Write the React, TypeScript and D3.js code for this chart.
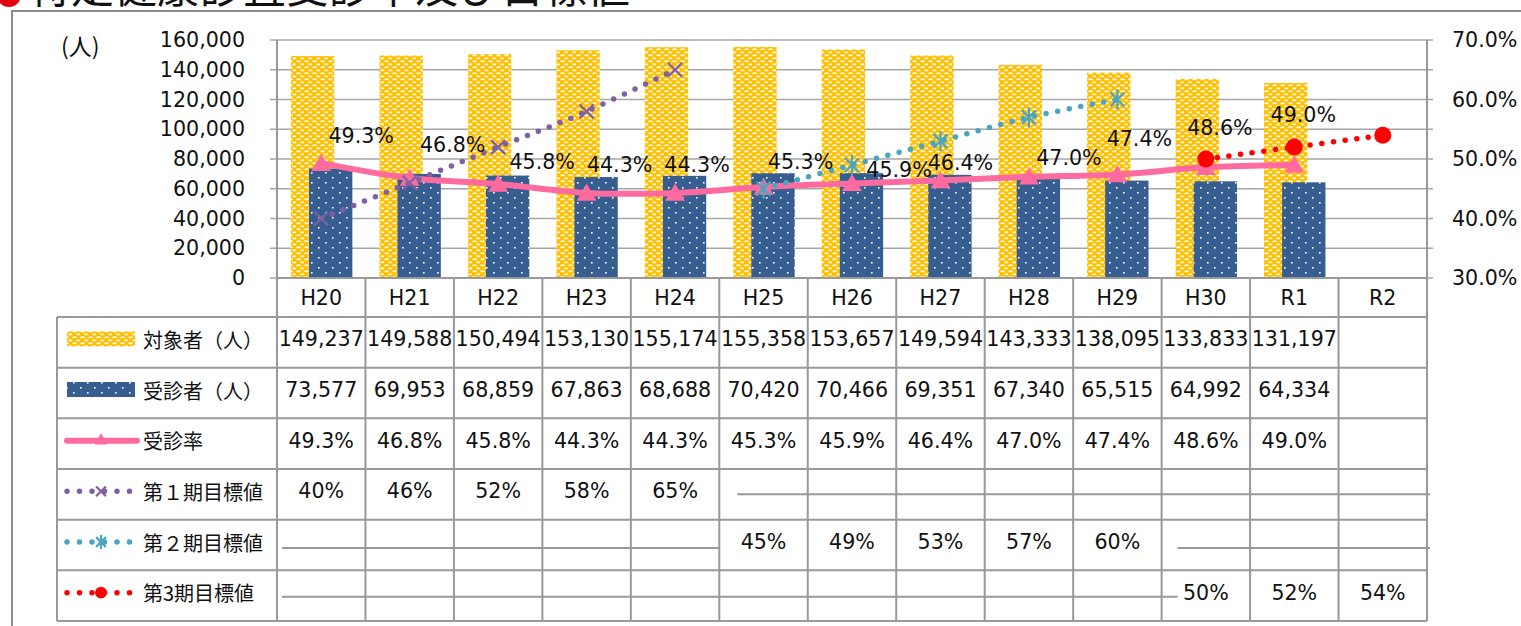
import React from "react";
import * as d3 from "d3";

// fiscal years along the bottom
const categories = ["H20", "H21", "H22", "H23", "H24", "H25", "H26", "H27", "H28", "H29", "H30", "R1", "R2"];

// people covered / people examined
const targets = [149237, 149588, 150494, 153130, 155174, 155358, 153657, 149594, 143333, 138095, 133833, 131197, null];
const examinees = [73577, 69953, 68859, 67863, 68688, 70420, 70466, 69351, 67340, 65515, 64992, 64334, null];

// exam rate (%) and the three target periods (%)
const rate = [49.3, 46.8, 45.8, 44.3, 44.3, 45.3, 45.9, 46.4, 47.0, 47.4, 48.6, 49.0, null];
const goal1 = [40, 46, 52, 58, 65, null, null, null, null, null, null, null, null];
const goal2 = [null, null, null, null, null, 45, 49, 53, 57, 60, null, null, null];
const goal3 = [null, null, null, null, null, null, null, null, null, null, 50, 52, 54];

const leftTicks = [0, 20000, 40000, 60000, 80000, 100000, 120000, 140000, 160000];
const rightTicks = [30, 40, 50, 60, 70];

const rowLabels = ["対象者（人）", "受診者（人）", "受診率", "第１期目標値", "第２期目標値", "第3期目標値"];

// the rate labels were dragged around by hand in the original, so nudge each one
const rateLabelNudge = [
  [40, -27], [43, -33], [44, -22], [33, -28], [22, -28], [37, -25],
  [47, -13], [20, -17], [40, -19], [22, -35], [14, -39], [9, -50],
];

const NUM_FONT = "'DejaVu Sans', Verdana, sans-serif";
const JP_FONT = "'Noto Sans CJK JP', 'Noto Sans', sans-serif";
const GRID = "#a6a6a6";
const TABLE = "#999999";
const PINK = "#ff6b9e";
const PURPLE = "#7f60a2";
const TEAL = "#4ba5c0";
const RED = "#ff0000";
const FS = 20.6;

const fmt = d3.format(",");

export default function App() {
  const width = 1521;
  const height = 626;
  const plotTop = 40;
  const plotBottom = 278;
  const plotLeft = 277;
  const plotRight = 1427;
  const tableLeft = 57;
  const headerBottom = 317;
  const tableBottom = 621;
  const rowH = (tableBottom - headerBottom) / rowLabels.length;

  const x = d3.scaleBand().domain(categories).range([plotLeft, plotRight]);
  const bw = x.bandwidth();
  const cx = (c: string) => (x(c) as number) + bw / 2;
  const yL = d3.scaleLinear().domain([0, 160000]).range([plotBottom, plotTop]);
  const yR = d3.scaleLinear().domain([30, 70]).range([plotBottom, plotTop]);

  const barW = bw * 0.49;
  const rowMid = (i: number) => headerBottom + rowH * (i + 0.5) - 3;

  const lineGen = d3
    .line<[string, number | null]>()
    .defined((d) => d[1] != null)
    .x((d) => cx(d[0]))
    .y((d) => yR(d[1] as number))
    .curve(d3.curveCardinal.tension(0));

  const pairs = (vals: (number | null)[]) => categories.map((c, i) => [c, vals[i]] as [string, number | null]);
  const triangle = d3.symbol(d3.symbolTriangle, 170)() as string;

  const xMark = (px: number, py: number, color: string, key: string, s = 1) => (
    <g key={key} stroke={color} strokeWidth={2.2}>
      <line x1={px - 7 * s} y1={py - 7 * s} x2={px + 7 * s} y2={py + 7 * s} />
      <line x1={px - 7 * s} y1={py + 7 * s} x2={px + 7 * s} y2={py - 7 * s} />
    </g>
  );
  const starMark = (px: number, py: number, color: string, key: string, s = 1) => (
    <g key={key} stroke={color} strokeWidth={2.2}>
      <line x1={px - 7 * s} y1={py - 7 * s} x2={px + 7 * s} y2={py + 7 * s} />
      <line x1={px - 7 * s} y1={py + 7 * s} x2={px + 7 * s} y2={py - 7 * s} />
      <line x1={px} y1={py - 10 * s} x2={px} y2={py + 10 * s} />
    </g>
  );
  const dotMark = (px: number, py: number, color: string, key: string, s = 1) => (
    <circle key={key} cx={px} cy={py} r={8.5 * s} fill={color} />
  );

  const goalSeries = [
    { vals: goal1, color: PURPLE, mark: xMark },
    { vals: goal2, color: TEAL, mark: starMark },
    { vals: goal3, color: RED, mark: dotMark },
  ];

  // cell text for every row of the data table
  const rowText = (r: number, i: number): string => {
    if (r === 0) return targets[i] == null ? "" : fmt(targets[i] as number);
    if (r === 1) return examinees[i] == null ? "" : fmt(examinees[i] as number);
    if (r === 2) return rate[i] == null ? "" : (rate[i] as number).toFixed(1) + "%";
    const g = goalSeries[r - 3].vals[i];
    return g == null ? "" : g + "%";
  };

  const keyL = 67;
  const keyR = 135;
  const keyMid = 101;

  return (
    <svg width={width} height={height} style={{ position: "absolute", left: 0, top: 0, display: "block", background: "#fff" }}>
      <defs>
        <pattern id="pYellow" width={8} height={6} patternUnits="userSpaceOnUse">
          <rect width={8} height={6} fill="#ffc000" />
          <rect x={0.5} y={0.5} width={4} height={1.7} fill="#fff" />
          <rect x={4.5} y={3.5} width={3.5} height={1.7} fill="#fff" />
        </pattern>
        <pattern id="pBlue" width={14} height={10} patternUnits="userSpaceOnUse">
          <rect width={14} height={10} fill="#375e91" />
          <rect x={3} y={2} width={1.6} height={1.6} fill="#fff" />
          <rect x={10} y={7} width={1.6} height={1.6} fill="#fff" />
        </pattern>
      </defs>

      {/* title, cut off at the top of the picture */}
      <circle cx={9} cy={-5} r={12} fill="#e60012" />
      <text x={28} y={3} fontFamily={JP_FONT} fontSize={43} fill="#111">
        特定健康診査受診率及び目標値
      </text>

      {/* outer frame */}
      <path d={`M12,${height} V11 H${width}`} fill="none" stroke="#8c8c8c" strokeWidth={2} />

      {/* gridlines with their tick stubs on both sides */}
      {leftTicks.map((t) => (
        <line key={t} x1={plotLeft - 7} x2={plotRight + 6} y1={yL(t)} y2={yL(t)} stroke={GRID} strokeWidth={1.6} />
      ))}
      {leftTicks.map((t) => (
        <text key={"l" + t} x={245} y={yL(t)} textAnchor="end" dominantBaseline="central" fontFamily={NUM_FONT} fontSize={FS} fill="#111">
          {fmt(t)}
        </text>
      ))}
      {rightTicks.map((t) => (
        <text key={"r" + t} x={1452} y={yR(t)} dominantBaseline="central" fontFamily={NUM_FONT} fontSize={FS} fill="#111">
          {t.toFixed(1)}%
        </text>
      ))}
      <text x={61} y={45} dominantBaseline="central" fontFamily={JP_FONT} fontSize={23} fill="#111">
        (人)
      </text>

      {/* bars */}
      {categories.map((c, i) =>
        targets[i] == null ? null : (
          <rect key={"t" + c} x={(x(c) as number) + bw * 0.158} y={yL(targets[i] as number)} width={barW} height={yL(0) - yL(targets[i] as number)} fill="url(#pYellow)" />
        )
      )}
      {categories.map((c, i) =>
        examinees[i] == null ? null : (
          <rect key={"e" + c} x={(x(c) as number) + bw * 0.362} y={yL(examinees[i] as number)} width={barW} height={yL(0) - yL(examinees[i] as number)} fill="url(#pBlue)" />
        )
      )}

      {/* table grid */}
      <g stroke={TABLE} strokeWidth={2} fill="none">
        <line x1={plotLeft} x2={plotLeft} y1={plotTop} y2={tableBottom} />
        <line x1={plotRight} x2={plotRight} y1={plotTop} y2={tableBottom} />
        <line x1={tableLeft} x2={tableLeft} y1={headerBottom} y2={tableBottom} />
        {categories.slice(1).map((c) => (
          <line key={"v" + c} x1={x(c) as number} x2={x(c) as number} y1={plotBottom} y2={tableBottom} />
        ))}
        <line x1={plotLeft} x2={plotRight} y1={plotBottom} y2={plotBottom} />
        {d3.range(rowLabels.length + 1).map((r) => (
          <line key={"h" + r} x1={tableLeft} x2={plotRight} y1={headerBottom + r * rowH} y2={headerBottom + r * rowH} />
        ))}
        {/* stray strokes through the empty target cells */}
        <line x1={(x("H25") as number) + 18} x2={plotRight + 3} y1={rowMid(3) + 3} y2={rowMid(3) + 3} />
        <line x1={plotLeft + 5} x2={x("H25") as number} y1={rowMid(4) + 6} y2={rowMid(4) + 6} />
        <line x1={(x("H30") as number) + 16} x2={plotRight + 3} y1={rowMid(4) + 6} y2={rowMid(4) + 6} />
        <line x1={plotLeft + 5} x2={(x("H30") as number) + 16} y1={rowMid(5) + 4} y2={rowMid(5) + 4} />
      </g>

      {/* category header */}
      {categories.map((c) => (
        <text key={"c" + c} x={cx(c)} y={(plotBottom + headerBottom) / 2} textAnchor="middle" dominantBaseline="central" fontFamily={NUM_FONT} fontSize={FS} fill="#111">
          {c}
        </text>
      ))}

      {/* table cells */}
      {rowLabels.map((lab, r) => (
        <g key={"row" + r}>
          <text x={143} y={rowMid(r)} dominantBaseline="central" fontFamily={JP_FONT} fontSize={20} fill="#111">
            {lab}
          </text>
          {categories.map((c, i) => (
            <text key={c} x={cx(c)} y={rowMid(r)} textAnchor="middle" dominantBaseline="central" fontFamily={NUM_FONT} fontSize={FS} fill="#111">
              {rowText(r, i)}
            </text>
          ))}
        </g>
      ))}

      {/* legend keys */}
      <rect x={keyL} y={rowMid(0) - 8} width={keyR - keyL} height={15} fill="url(#pYellow)" />
      <rect x={keyL} y={rowMid(1) - 8} width={keyR - keyL} height={15} fill="url(#pBlue)" />
      <line x1={keyL} x2={keyR + 2} y1={rowMid(2)} y2={rowMid(2)} stroke={PINK} strokeWidth={6} strokeLinecap="round" />
      <path d={triangle} transform={`translate(${keyMid},${rowMid(2)}) scale(0.65)`} fill={PINK} />
      {goalSeries.map((g, k) => (
        <g key={"k" + k}>
          <line x1={keyL} x2={keyR - 4} y1={rowMid(3 + k)} y2={rowMid(3 + k)} stroke={g.color} strokeWidth={5.5} strokeDasharray="0 12.5" strokeLinecap="round" />
          {g.mark(keyMid, rowMid(3 + k), g.color, "km" + k, 0.7)}
        </g>
      ))}

      {/* exam rate line */}
      <path d={lineGen(pairs(rate)) as string} fill="none" stroke={PINK} strokeWidth={6} strokeLinejoin="round" />
      {categories.map((c, i) =>
        rate[i] == null ? null : (
          <path key={"m" + c} d={triangle} transform={`translate(${cx(c)},${yR(rate[i] as number) + 2})`} fill={PINK} />
        )
      )}

      {/* target lines */}
      {goalSeries.map((g, k) => (
        <g key={"g" + k}>
          <path d={lineGen(pairs(g.vals)) as string} fill="none" stroke={g.color} strokeWidth={5.5} strokeDasharray="0 11.7" strokeLinecap="round" />
          {categories.map((c, i) => (g.vals[i] == null ? null : g.mark(cx(c), yR(g.vals[i] as number), g.color, c)))}
        </g>
      ))}

      {/* rate labels */}
      {categories.map((c, i) =>
        rate[i] == null ? null : (
          <text key={"lb" + c} x={cx(c) + rateLabelNudge[i][0]} y={yR(rate[i] as number) + rateLabelNudge[i][1]} textAnchor="middle" dominantBaseline="central" fontFamily={NUM_FONT} fontSize={FS} fill="#111">
            {(rate[i] as number).toFixed(1)}%
          </text>
        )
      )}
    </svg>
  );
}
